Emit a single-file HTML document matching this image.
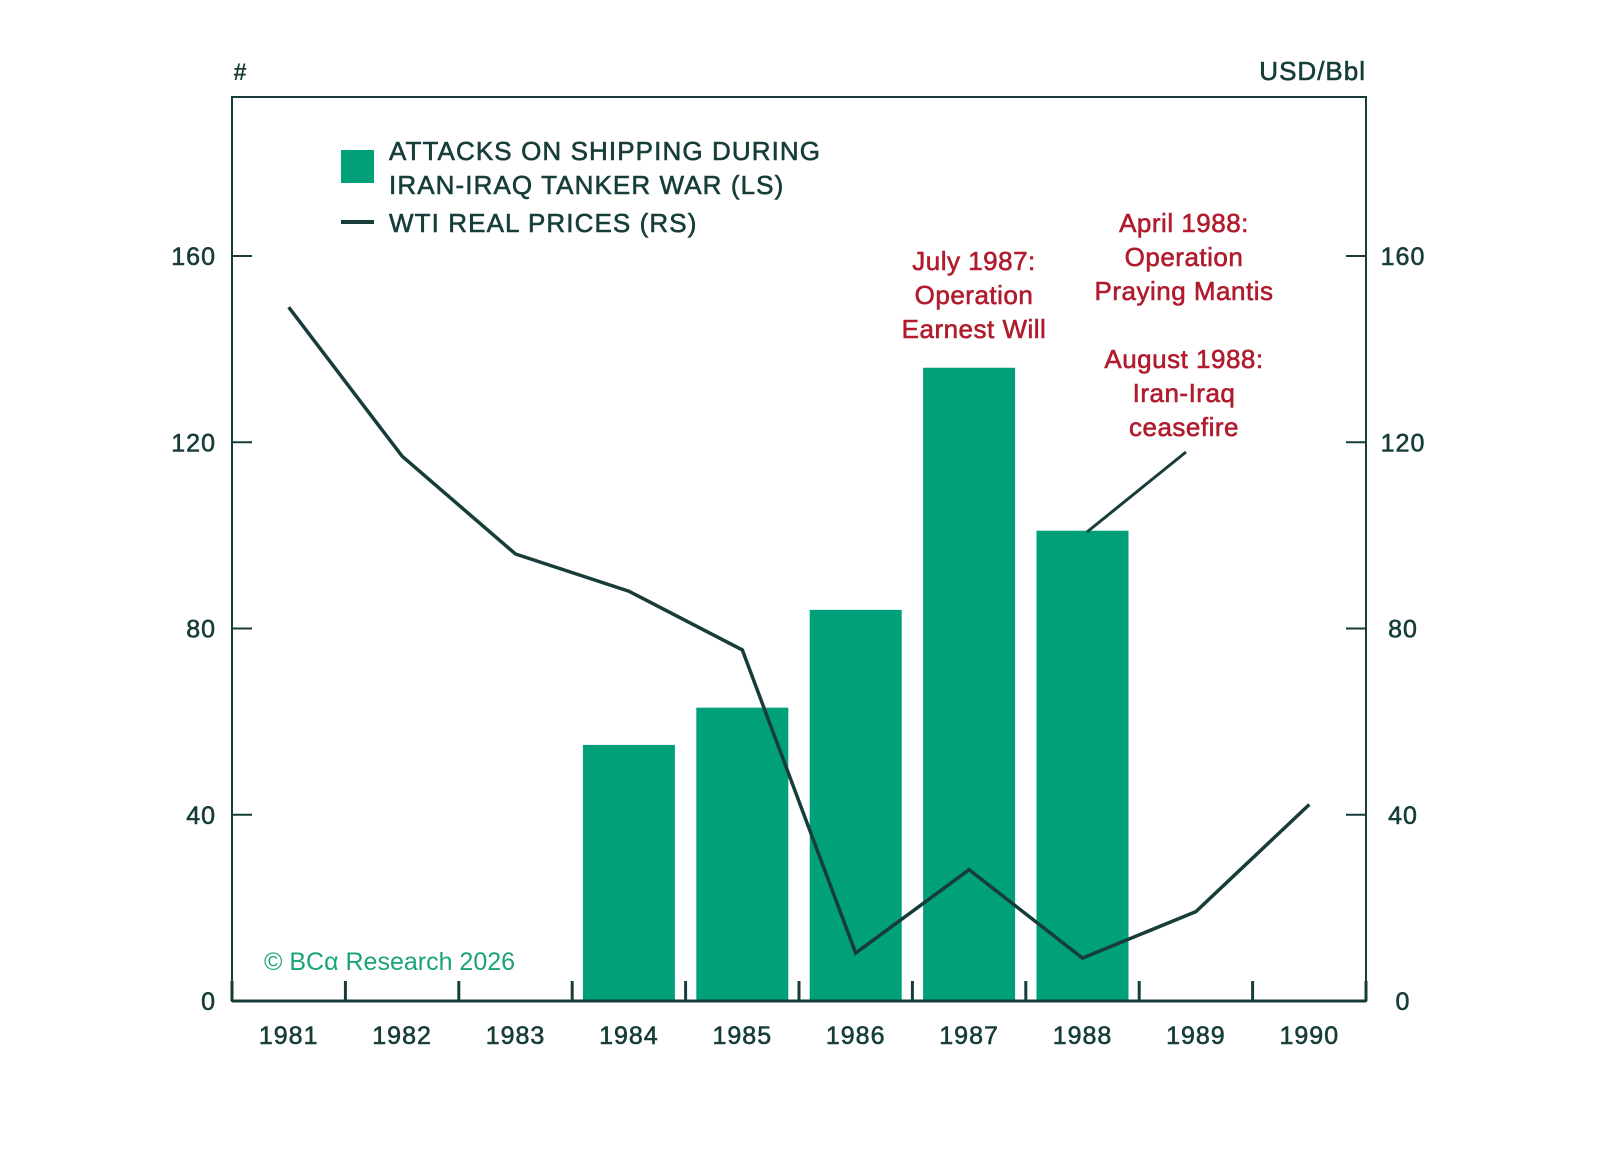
<!DOCTYPE html>
<html><head><meta charset="utf-8"><style>
body{margin:0;background:#fff}
svg text{font-family:"Liberation Sans",sans-serif}
</style></head><body>
<svg width="1597" height="1144" viewBox="0 0 1597 1144">
<g id="g"></g>
</svg>
<script>
const years=[1981,1982,1983,1984,1985,1986,1987,1988,1989,1990];
const attacks=[null,null,null,55,63,84,136,101,null,null];
const wti=[149,117,96,88,75.4,10.3,28.2,9.2,19.2,42.2];
const yTicks=[0,40,80,120,160];
const L=232,R=1366,T=97,B=1001,DARK="#173d3a",GREEN="#00a07a",RED="#b01c2e";
const step=(R-L)/years.length;
const x=i=>L+step*(i+0.5);
const y=v=>B-v*(B-256)/160;
const g=document.getElementById('g');
function el(t,a,txt){const e=document.createElementNS('http://www.w3.org/2000/svg',t);for(const k in a)e.setAttribute(k,a[k]);if(txt!=null)e.textContent=txt;g.appendChild(e);return e;}
attacks.forEach((v,i)=>{if(v==null)return;
const e=el('rect',{x:x(i)-46,y:y(v),width:92,height:B-y(v),fill:GREEN});

});
const f=el('rect',{x:L,y:T,width:R-L,height:B-T,fill:'none',stroke:DARK,'stroke-width':2});


el('line',{x1:L,y1:B,x2:R,y2:B,stroke:DARK,'stroke-width':3});
for(let i=0;i<=years.length;i++){const xx=L+step*i;el('line',{x1:xx,y1:B-20,x2:xx,y2:B,stroke:DARK,'stroke-width':3});}
yTicks.forEach(v=>{
if(v>0){el('line',{x1:L,y1:y(v),x2:L+20,y2:y(v),stroke:DARK,'stroke-width':2});
el('line',{x1:R-20,y1:y(v),x2:R,y2:y(v),stroke:DARK,'stroke-width':2});}
const a=el('text',{x:216,y:y(v)+9,'text-anchor':'end','font-size':25,fill:DARK,stroke:DARK,'stroke-width':0.6,'letter-spacing':1},v);


const b=el('text',{x:1403,y:y(v)+9,'text-anchor':'middle','font-size':25,fill:DARK,stroke:DARK,'stroke-width':0.6,'letter-spacing':1},v);

});
years.forEach((yr,i)=>{const t=el('text',{x:x(i),y:1044,'text-anchor':'middle','font-size':25,fill:DARK,stroke:DARK,'stroke-width':0.6,'letter-spacing':1},yr);

});
const ln=el('polyline',{points:wti.map((v,i)=>x(i)+','+y(v)).join(' '),fill:'none',stroke:DARK,'stroke-width':3.5});


</script>
<svg width="1597" height="1144" style="position:absolute;left:0;top:0">
<text x="240" y="80" font-size="24" fill="#173d3a" text-anchor="middle" font-weight="bold">#</text>
<text x="1366" y="80" font-size="26" fill="#173d3a" stroke="#173d3a" stroke-width="0.6" letter-spacing="1" text-anchor="end">USD/Bbl</text>
<rect x="341" y="150" width="33" height="33" fill="#00a07a"/>
<g font-size="26" fill="#173d3a" stroke="#173d3a" stroke-width="0.6" letter-spacing="1.1">
<text x="389" y="160"><tspan x="389">ATTACKS ON SHIPPING DURING</tspan><tspan x="389" dy="34">IRAN-IRAQ TANKER WAR (LS)</tspan></text>
<text x="389" y="232">WTI REAL PRICES (RS)</text>
</g>
<line x1="341" y1="222" x2="374" y2="222" stroke="#173d3a" stroke-width="4"/>
<g font-size="26" fill="#b01c2e" stroke="#b01c2e" stroke-width="0.6" letter-spacing="0.5" text-anchor="middle">
<text x="974" y="270"><tspan x="974">July 1987:</tspan><tspan x="974" dy="34">Operation</tspan><tspan x="974" dy="34">Earnest Will</tspan></text>
<text x="1184" y="232"><tspan x="1184">April 1988:</tspan><tspan x="1184" dy="34">Operation</tspan><tspan x="1184" dy="34">Praying Mantis</tspan></text>
<text x="1184" y="368"><tspan x="1184">August 1988:</tspan><tspan x="1184" dy="34">Iran-Iraq</tspan><tspan x="1184" dy="34">ceasefire</tspan></text>
</g>
<line x1="1087" y1="532" x2="1186" y2="452" stroke="#173d3a" stroke-width="3"/>
<text x="264" y="970" font-size="25" fill="#1aa37a" font-family="Liberation Serif,serif">© BCα Research 2026</text>
</svg>
</body></html>
